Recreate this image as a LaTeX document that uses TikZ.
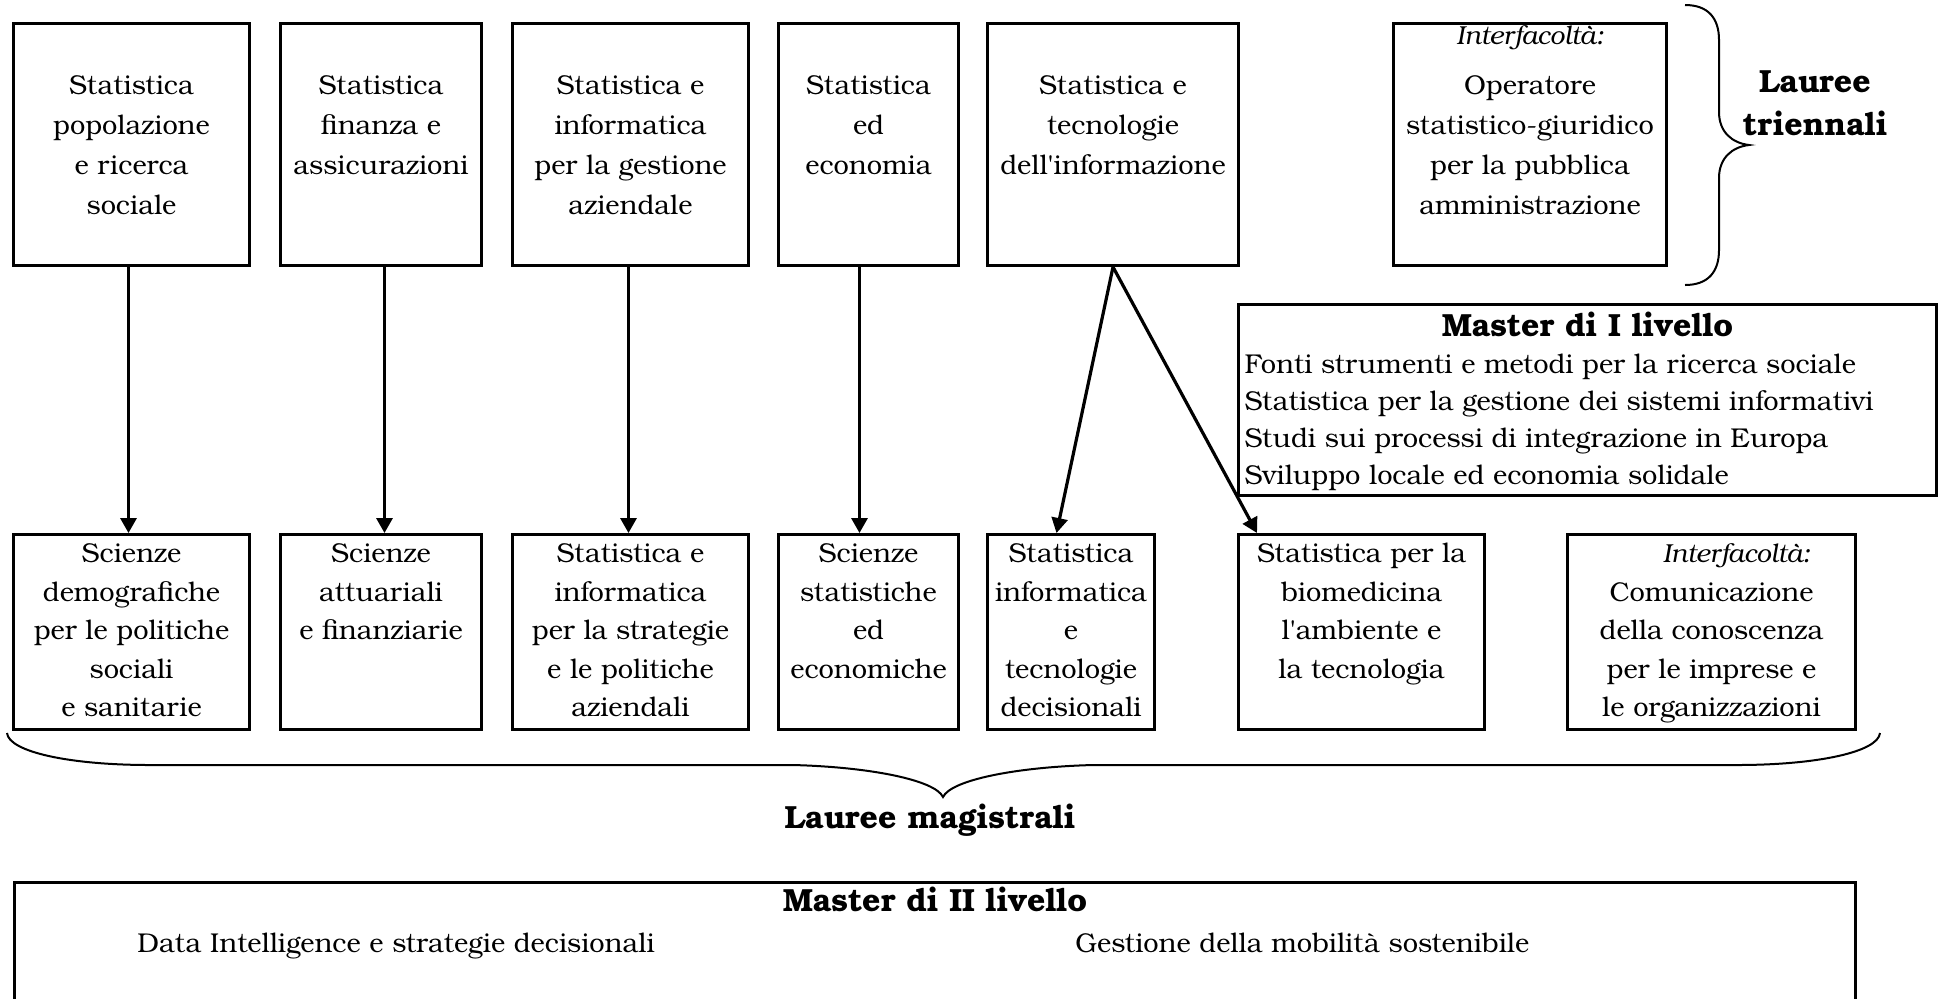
\documentclass[tikz,border=0pt]{standalone}
\usepackage{fontspec}
\setmainfont{TeX Gyre Bonum}
\usetikzlibrary{arrows.meta}
\newcommand{\mlc}[1]{\begin{tabular}[t]{@{}c@{}}#1\end{tabular}}
\newcommand{\itf}{{\fontsize{13}{20}\selectfont\itshape Interfacoltà:}}
\newcommand{\bigbf}{\fontsize{16}{20}\selectfont\bfseries}
\begin{document}
\begin{tikzpicture}[x=0.5pt,y=-0.5pt,
  every node/.style={font=\fontsize{13.6}{20}\selectfont},
  box/.style={draw, line width=1.5pt, inner sep=0pt, anchor=north west},
  topbox/.style={box, text height=35.5pt, text depth=85.5pt},
  botbox/.style={box, text height=14pt, text depth=83.5pt, font=\fontsize{13.6}{19.25}\selectfont},
  arr/.style={line width=1.6pt, -{Triangle[width=8pt,length=7.5pt]}},
  bracestyle/.style={line width=1pt},
  lbl/.style={inner sep=0pt, anchor=base, font=\bigbf}
]
\useasboundingbox (0,0) rectangle (1942,998);

% top row
\node[topbox, minimum width=118pt] (T1) at (12,22) {\mlc{Statistica\\popolazione\\e ricerca\\sociale}};
\node[topbox, minimum width=100.5pt] (T2) at (279,22) {\mlc{Statistica\\finanza e\\assicurazioni}};
\node[topbox, minimum width=118pt] (T3) at (511,22) {\mlc{Statistica e\\informatica\\per la gestione\\aziendale}};
\node[topbox, minimum width=90pt] (T4) at (777,22) {\mlc{Statistica\\ed\\economia}};
\node[topbox, minimum width=125.5pt] (T5) at (986,22) {\mlc{Statistica e\\tecnologie\\dell\textquotesingle informazione}};
\node[box, minimum width=136.5pt, text height=10.5pt, text depth=110.5pt] (T6) at (1392,22) {\mlc{\itf\\[5pt]Operatore\\statistico-giuridico\\per la pubblica\\amministrazione}};

% bottom row
\node[botbox, minimum width=118pt] (B1) at (12,533) {\mlc{Scienze\\demografiche\\per le politiche\\sociali\\e sanitarie}};
\node[botbox, minimum width=100.5pt] (B2) at (279,533) {\mlc{Scienze\\attuariali\\e finanziarie}};
\node[botbox, minimum width=118pt] (B3) at (511,533) {\mlc{Statistica e\\informatica\\per la strategie\\e le politiche\\aziendali}};
\node[botbox, minimum width=90pt] (B4) at (777,533) {\mlc{Scienze\\statistiche\\ed\\economiche}};
\node[botbox, minimum width=83.5pt] (B5) at (986,533) {\mlc{Statistica\\informatica\\e\\tecnologie\\decisionali}};
\node[botbox, minimum width=123pt] (B6) at (1237,533) {\mlc{Statistica per la\\biomedicina\\l\textquotesingle ambiente e\\la tecnologia}};
\node[botbox, minimum width=144pt] (B7) at (1566,533) {\mlc{\hspace*{25pt}\itf\\Comunicazione\\della conoscenza\\per le imprese e\\le organizzazioni}};

% Master I
\node[box, inner xsep=3pt, minimum width=349pt, text height=16pt, text depth=79.5pt,
      font=\fontsize{13.6}{18.5}\selectfont] (M1) at (1237,303)
  {\begin{tabular}[t]{@{}p{343pt}@{}}
   \multicolumn{1}{@{}c@{}}{\bigbf Master di I livello}\\
   Fonti strumenti e metodi per la ricerca sociale\\
   Statistica per la gestione dei sistemi informativi\\
   Studi sui processi di integrazione in Europa\\
   Sviluppo locale ed economia solidale
   \end{tabular}};

% Master II
\node[box, minimum width=920.5pt, text height=14.5pt, text depth=50.5pt] (M2) at (13,881)
  {\bigbf Master di II livello};
\node[inner sep=0pt, anchor=base west] (M2a) at (137,952) {Data Intelligence e strategie decisionali};
\node[inner sep=0pt, anchor=base west] (M2b) at (1075,952) {Gestione della mobilità sostenibile};

% arrows
\draw[arr] ([xshift=-1.5pt]T1.south) -- ([xshift=-1.5pt]B1.north);
\draw[arr] ([xshift=1.75pt]T2.south) -- ([xshift=1.75pt]B2.north);
\draw[arr] ([xshift=-1pt]T3.south) -- ([xshift=-1pt]B3.north);
\draw[arr] ([xshift=-4.5pt]T4.south) -- ([xshift=-4.5pt]B4.north);
\draw[arr] (T5.south) -- ([xshift=-7.25pt]B5.north);
\draw[arr] (T5.south) -- ([xshift=10pt]B6.north west);

% right brace
\draw[bracestyle] (1685,5) .. controls (1708,5) and (1719,18) .. (1719,40)
  -- (1719,112) .. controls (1719,132) and (1732,143) .. (1749,145)
  .. controls (1732,147) and (1719,158) .. (1719,178)
  -- (1719,250) .. controls (1719,272) and (1708,285) .. (1685,285);
\node[lbl] (LT) at (1815,92) {\begin{tabular}[t]{@{}c@{}}Lauree\\[1.5pt]triennali\end{tabular}};

% bottom brace
\draw[bracestyle] (7,733) .. controls (9,752) and (70,765) .. (150,765)
  -- (793,765) .. controls (870,767) and (935,780) .. (943,797)
  .. controls (951,780) and (1016,767) .. (1093,765)
  -- (1737,765) .. controls (1817,765) and (1878,752) .. (1880,733);
\node[lbl] (LM) at (930,828) {Lauree magistrali};
\end{tikzpicture}
\end{document}
